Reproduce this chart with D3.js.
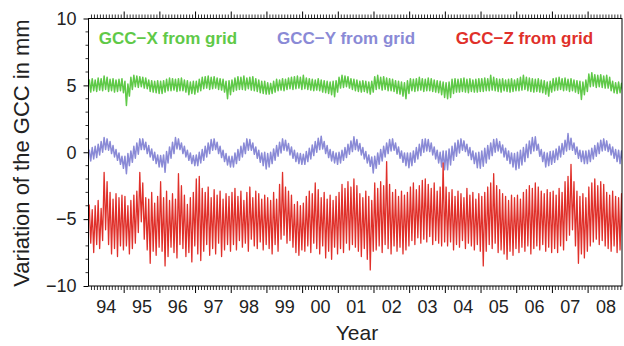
<!DOCTYPE html>
<html>
<head>
<meta charset="utf-8">
<script src="https://cdn.jsdelivr.net/npm/d3@7"></script>
<style>
  body { margin: 0; background: #fff; }
  svg { display: block; font-family: "Liberation Sans", Arial, sans-serif; }
</style>
</head>
<body>
<svg id="chart" width="624" height="346"></svg>
<script>
// year categories and tick labels
const years = [1994, 1995, 1996, 1997, 1998, 1999, 2000, 2001, 2002, 2003, 2004, 2005, 2006, 2007, 2008];
const yearLabels = ["94", "95", "96", "97", "98", "99", "00", "01", "02", "03", "04", "05", "06", "07", "08"];
const yTicks = [-10, -5, 0, 5, 10];
const yTickLabels = ["\u221210", "\u22125", "0", "5", "10"];
const seriesNames = ["GCC\u2212X from grid", "GCC\u2212Y from grid", "GCC\u2212Z from grid"];

// monthly upper / lower readings of each noisy band (mm), one row per year
const xHi = [
  5.45,5.5,5.4,5.55,5.5,5.7,5.6,5.45,5.5,5.4,5.45,5.5,
  5.3,5.1,5.6,5.75,5.7,5.65,5.6,5.55,5.4,5.35,5.3,5.35,
  5.3,5.35,5.45,5.55,5.5,5.45,5.5,5.55,5.4,5.35,5.25,5.3,
  5.3,5.45,5.6,5.65,5.7,5.6,5.65,5.55,5.5,5.45,5.3,5.35,
  5.4,5.55,5.65,5.6,5.7,5.55,5.6,5.65,5.5,5.4,5.3,5.3,
  5.2,5.15,5.3,5.45,5.4,5.5,5.45,5.55,5.6,5.65,5.7,5.6,
  5.75,5.55,5.5,5.45,5.4,5.5,5.4,5.35,5.3,5.25,5.3,5.35,
  5.6,5.75,5.7,5.65,5.5,5.45,5.4,5.3,5.35,5.3,5.25,5.3,
  5.65,5.75,5.6,5.65,5.55,5.5,5.45,5.35,5.3,5.25,5.2,5.35,
  5.5,5.45,5.5,5.6,5.5,5.45,5.55,5.5,5.4,5.35,5.3,5.25,
  5.2,5.25,5.45,5.5,5.45,5.5,5.55,5.45,5.5,5.4,5.45,5.5,
  5.5,5.55,5.5,5.75,5.6,5.5,5.45,5.5,5.4,5.45,5.5,5.4,
  5.5,5.6,5.75,5.6,5.55,5.5,5.45,5.5,5.4,5.35,5.25,5.3,
  5.5,5.55,5.6,5.5,5.55,5.45,5.5,5.4,5.35,5.3,5.25,5.4,
  5.85,5.95,5.8,5.75,5.8,5.7,5.75,5.6,5.3,5.2,5.25,5.15
];
const xLo = [
  4.5,4.6,4.55,4.65,4.6,4.7,4.55,4.6,4.5,4.55,4.6,4.45,
  3.5,4.2,4.7,4.9,4.85,4.9,4.8,4.75,4.55,4.5,4.45,4.4,
  4.4,4.5,4.6,4.6,4.65,4.55,4.6,4.6,4.5,4.3,4.4,4.35,
  4.5,4.6,4.75,4.8,4.7,4.75,4.8,4.7,4.65,4.5,4.0,4.3,
  4.55,4.65,4.7,4.7,4.65,4.75,4.65,4.6,4.55,4.45,4.4,4.35,
  4.35,4.4,4.5,4.6,4.65,4.6,4.7,4.75,4.7,4.75,4.8,4.7,
  4.75,4.7,4.65,4.6,4.65,4.6,4.5,4.45,4.4,4.3,4.15,4.5,
  4.8,4.85,4.9,4.8,4.7,4.6,4.55,4.5,4.55,4.45,4.35,4.5,
  4.7,4.75,4.65,4.7,4.6,4.6,4.55,4.4,4.35,4.2,4.0,4.4,
  4.6,4.55,4.6,4.65,4.55,4.6,4.6,4.55,4.5,4.45,4.3,4.1,
  4.0,4.1,4.4,4.5,4.5,4.55,4.5,4.45,4.55,4.5,4.5,4.55,
  4.55,4.6,4.6,4.65,4.6,4.55,4.5,4.6,4.55,4.5,4.55,4.6,
  4.6,4.65,4.7,4.6,4.55,4.5,4.55,4.5,4.45,4.35,4.2,4.5,
  4.6,4.65,4.7,4.6,4.65,4.55,4.6,4.5,4.4,3.95,4.3,4.55,
  4.9,4.95,4.85,4.9,4.85,4.8,4.8,4.6,4.45,4.4,4.45,4.5
];
const yHi = [
  0.2,0.35,0.45,0.6,0.8,1.1,1.0,0.8,0.5,0.2,-0.05,-0.3,
  -0.3,-0.1,0.1,0.45,0.7,1.0,1.0,0.75,0.5,0.25,0.0,-0.2,
  -0.25,-0.2,0.05,0.4,0.75,1.1,1.0,0.7,0.45,0.15,-0.05,-0.25,
  -0.2,0.0,0.2,0.45,0.7,0.95,1.0,0.75,0.45,0.15,-0.1,-0.3,
  -0.3,-0.05,0.2,0.45,0.7,1.0,0.95,0.7,0.4,0.15,-0.05,0.0,
  -0.1,0.0,0.25,0.5,0.75,1.0,0.9,0.65,0.4,0.15,-0.05,-0.1,
  -0.15,0.05,0.3,0.55,0.8,1.05,1.2,0.8,0.5,0.2,0.05,-0.05,
  0.0,0.15,0.35,0.6,0.85,1.15,0.95,0.65,0.35,0.05,-0.2,-0.35,
  -0.3,-0.05,0.2,0.45,0.7,0.95,1.0,0.7,0.4,0.1,-0.05,-0.05,
  -0.05,0.1,0.35,0.6,0.95,1.0,0.95,0.7,0.4,0.15,0.0,0.1,
  0.1,0.25,0.45,0.7,0.9,1.0,0.85,0.6,0.35,0.1,-0.05,0.0,
  0.1,0.3,0.5,0.7,0.95,1.0,0.8,0.55,0.3,0.1,-0.05,-0.1,
  0.0,0.15,0.35,0.6,0.85,1.1,1.15,0.6,0.2,0.0,-0.05,0.05,
  0.1,0.25,0.45,0.65,0.9,1.4,1.05,0.7,0.4,0.15,0.1,0.1,
  0.15,0.3,0.5,0.7,0.9,1.0,0.85,0.6,0.4,0.2,0.15,0.1
];
const yLo = [
  -0.65,-0.5,-0.4,-0.2,0.0,0.2,0.15,-0.1,-0.35,-0.6,-0.9,-1.2,
  -1.6,-1.0,-0.75,-0.45,-0.15,0.2,0.2,-0.1,-0.35,-0.6,-0.85,-1.1,
  -1.1,-1.5,-0.8,-0.45,-0.1,0.25,0.2,-0.1,-0.35,-0.6,-0.85,-1.0,
  -1.0,-0.8,-0.6,-0.35,-0.1,0.15,0.2,-0.1,-0.4,-0.7,-0.95,-1.1,
  -1.1,-0.85,-0.6,-0.35,-0.1,0.15,0.15,-0.15,-0.45,-0.75,-1.0,-1.25,
  -1.1,-0.85,-0.6,-0.3,-0.05,0.15,0.1,-0.2,-0.45,-0.7,-0.85,-0.9,
  -0.9,-0.7,-0.5,-0.25,0.0,0.2,0.25,-0.1,-0.4,-0.65,-0.8,-0.9,
  -0.8,-0.6,-0.4,-0.15,0.05,0.2,0.1,-0.2,-0.5,-0.8,-1.05,-1.55,
  -1.2,-0.9,-0.65,-0.35,-0.1,0.1,0.15,-0.15,-0.45,-0.75,-1.0,-1.15,
  -1.0,-0.75,-0.5,-0.25,0.0,0.1,0.05,-0.2,-0.5,-0.8,-1.1,-1.3,
  -1.3,-0.95,-0.6,-0.3,-0.05,0.15,0.05,-0.25,-0.55,-0.85,-1.15,-1.2,
  -1.05,-0.8,-0.5,-0.25,0.0,0.1,-0.05,-0.35,-0.6,-0.85,-1.1,-1.3,
  -1.2,-0.95,-0.7,-0.4,-0.1,0.1,0.15,-0.3,-0.7,-1.1,-1.0,-0.9,
  -0.75,-0.55,-0.35,-0.15,0.1,0.2,0.15,-0.15,-0.45,-0.7,-0.85,-0.85,
  -0.7,-0.5,-0.3,-0.1,0.1,0.15,0.05,-0.2,-0.45,-0.7,-0.85,-0.8
];
const zHi = [
  -3.9,-4.3,-4.0,-3.6,-4.2,-1.5,-2.2,-3.0,-3.5,-3.1,-3.4,-3.2,
  -3.3,-4.0,-3.6,-3.2,-2.9,-1.5,-2.3,-3.4,-3.5,-3.0,-3.8,-3.3,
  -2.2,-3.4,-2.9,-3.6,-3.1,-3.5,-1.6,-2.5,-3.2,-3.9,-3.4,-3.0,
  -2.0,-1.8,-2.7,-3.0,-2.6,-3.4,-2.8,-3.2,-2.9,-3.5,-3.1,-3.3,
  -3.0,-2.7,-3.3,-2.9,-3.6,-3.0,-2.6,-3.4,-2.9,-3.1,-3.5,-3.2,
  -3.4,-3.6,-3.0,-3.5,-2.4,-1.5,-2.6,-2.9,-3.2,-3.9,-3.7,-4.0,
  -3.8,-3.3,-2.9,-3.1,-2.3,-2.8,-3.4,-3.0,-3.5,-3.2,-3.6,-3.3,
  -3.0,-2.4,-2.7,-2.2,-2.6,-2.0,-2.5,-3.1,-3.4,-2.9,-3.3,-3.6,
  -2.3,-2.7,-2.2,-2.5,-0.7,-2.4,-3.0,-2.8,-3.3,-2.9,-3.2,-3.0,
  -2.6,-2.3,-2.8,-2.5,-2.1,-2.0,-2.4,-2.7,-2.3,-2.9,-2.6,-0.8,
  -2.6,-3.0,-2.8,-3.3,-2.9,-3.1,-3.4,-2.7,-3.2,-3.0,-3.5,-3.1,
  -3.3,-3.0,-2.6,-2.3,-1.6,-2.5,-2.8,-3.1,-3.3,-3.6,-3.2,-3.4,
  -3.2,-3.5,-3.0,-2.8,-2.5,-2.7,-2.3,-2.6,-2.9,-3.1,-2.8,-3.0,
  -2.9,-3.2,-2.7,-3.0,-2.2,-1.8,-0.9,-2.2,-2.9,-3.3,-3.1,-3.4,
  -2.6,-2.3,-2.0,-2.5,-2.2,-2.4,-3.0,-3.2,-2.9,-3.3,-3.4,-3.1
];
const zLo = [
  -6.8,-7.5,-6.9,-7.2,-6.6,-5.8,-6.9,-7.6,-7.2,-7.8,-7.0,-7.3,
  -7.0,-7.6,-7.2,-6.8,-6.0,-5.2,-6.5,-7.3,-8.3,-7.4,-7.7,-7.1,
  -7.4,-8.5,-7.8,-7.1,-7.5,-7.9,-6.9,-7.2,-7.8,-7.5,-8.2,-7.0,
  -7.6,-8.1,-7.4,-6.9,-7.7,-7.2,-7.6,-6.8,-7.8,-7.3,-6.9,-7.4,
  -6.9,-7.3,-6.6,-7.1,-6.8,-7.4,-6.5,-7.0,-7.2,-6.7,-7.3,-6.9,
  -7.2,-7.6,-6.9,-7.4,-6.5,-6.2,-6.8,-6.6,-7.1,-7.5,-7.7,-7.3,
  -7.4,-7.0,-7.5,-6.8,-7.2,-7.6,-7.0,-7.9,-7.4,-8.0,-7.1,-7.6,
  -7.2,-7.5,-6.8,-7.3,-6.9,-7.1,-7.4,-7.8,-7.2,-8.0,-8.8,-7.4,
  -7.3,-7.0,-7.5,-6.9,-7.2,-7.6,-7.0,-7.4,-7.1,-7.6,-7.3,-7.0,
  -6.6,-6.9,-6.4,-6.8,-6.5,-6.7,-6.3,-6.9,-6.6,-6.8,-7.0,-6.7,
  -7.0,-6.7,-7.3,-6.9,-7.1,-6.6,-7.2,-6.8,-7.0,-7.3,-6.9,-7.4,
  -8.5,-7.4,-6.9,-7.2,-6.8,-7.5,-7.3,-7.6,-8.0,-7.4,-7.7,-7.2,
  -7.5,-7.1,-7.4,-7.0,-7.6,-7.2,-7.0,-7.3,-6.9,-7.4,-7.1,-7.5,
  -7.2,-7.5,-7.0,-7.3,-6.6,-6.2,-5.8,-7.0,-8.3,-7.6,-7.9,-7.4,
  -7.0,-6.7,-6.5,-6.9,-6.6,-7.0,-7.2,-7.4,-7.0,-7.5,-7.3,-7.6
];

const colors = ["#5fc948", "#8a8ad6", "#e0302a"];
const strokeWidths = [1.5, 1.5, 1.3];

const svg = d3.select("#chart");
const plotLeft = 88.5, plotRight = 622, plotTop = 18.5, plotBottom = 286;

const x = d3.scaleLinear().domain([1994, 2008.95]).range([plotLeft, plotRight]);
const y = d3.scaleLinear().domain([-10, 10]).range([plotBottom, plotTop]);

// monthly readings -> points (upper reading early in the month, lower one late)
function bandPoints(hi, lo) {
  const pts = [];
  hi.forEach((h, i) => {
    const t = years[0] + Math.floor(i / 12) + (i % 12) / 12;
    pts.push([t + 0.25 / 12, h]);
    pts.push([t + 0.75 / 12, lo[i]]);
  });
  return pts;
}

svg.append("clipPath").attr("id", "clip")
  .append("rect")
  .attr("x", plotLeft).attr("y", plotTop)
  .attr("width", plotRight - plotLeft).attr("height", plotBottom - plotTop);

const line = d3.line().x(d => x(d[0])).y(d => y(d[1]));

const plot = svg.append("g").attr("clip-path", "url(#clip)");
[[xHi, xLo], [yHi, yLo], [zHi, zLo]].forEach(([hi, lo], i) => {
  plot.append("path")
    .datum(bandPoints(hi, lo))
    .attr("fill", "none")
    .attr("stroke", colors[i])
    .attr("stroke-width", strokeWidths[i])
    .attr("stroke-linejoin", "round")
    .attr("d", line);
});

// month ticks for top & bottom
const monthTicks = [];
years.forEach(yr => { for (let m = 1; m < 12; m++) monthTicks.push(yr + m / 12); });
const yearTicks = years.slice(1);

function xAxisTicks(g, dir) {
  g.selectAll(".minor").data(monthTicks.filter(t => t < 2008.95)).join("line")
    .attr("class", "minor")
    .attr("x1", d => x(d)).attr("x2", d => x(d))
    .attr("y1", 0).attr("y2", dir * 4)
    .attr("stroke", "#000").attr("stroke-width", 0.8);
  g.selectAll(".major").data(yearTicks).join("line")
    .attr("class", "major")
    .attr("x1", d => x(d)).attr("x2", d => x(d))
    .attr("y1", 0).attr("y2", dir * 7)
    .attr("stroke", "#000").attr("stroke-width", 1);
}
xAxisTicks(svg.append("g").attr("transform", `translate(0,${plotBottom})`), 1);
xAxisTicks(svg.append("g").attr("transform", `translate(0,${plotTop})`), -1);

// year labels, centred in each year
svg.append("g").selectAll("text").data(years).join("text")
  .attr("x", d => x(d + 0.5))
  .attr("y", 313)
  .attr("text-anchor", "middle")
  .attr("font-size", 18)
  .attr("fill", "#222")
  .text((d, i) => yearLabels[i]);

// left axis
const yAxis = d3.axisLeft(y).tickValues(yTicks).tickSize(5).tickPadding(7)
  .tickFormat((d, i) => yTickLabels[i]);
const ya = svg.append("g").attr("transform", `translate(${plotLeft},0)`).call(yAxis);
ya.select(".domain").remove();
ya.selectAll("text").attr("font-size", 18).attr("fill", "#222")
  .attr("font-family", "'Liberation Sans', Arial, sans-serif");
ya.selectAll(".minor").data(d3.range(-9, 10).filter(v => v % 5 !== 0)).join("line")
  .attr("class", "minor")
  .attr("x1", -3).attr("x2", 0)
  .attr("y1", d => y(d)).attr("y2", d => y(d))
  .attr("stroke", "#000").attr("stroke-width", 0.8);

// frame
svg.append("rect")
  .attr("x", plotLeft).attr("y", plotTop)
  .attr("width", plotRight - plotLeft).attr("height", plotBottom - plotTop)
  .attr("fill", "none").attr("stroke", "#000").attr("stroke-width", 1);

// legend texts
const legendX = [98.8, 277, 455.7];
seriesNames.forEach((name, i) => {
  svg.append("text")
    .attr("x", legendX[i]).attr("y", 44)
    .attr("font-size", 17).attr("font-weight", "bold")
    .attr("fill", colors[i])
    .text(name);
});

// axis titles
svg.append("text")
  .attr("x", 357).attr("y", 340)
  .attr("text-anchor", "middle")
  .attr("font-size", 21).attr("fill", "#222")
  .text("Year");

svg.append("text")
  .attr("transform", "translate(29,153) rotate(-90)")
  .attr("text-anchor", "middle")
  .attr("font-size", 22).attr("fill", "#222")
  .text("Variation of the GCC in mm");
</script>
</body>
</html>
